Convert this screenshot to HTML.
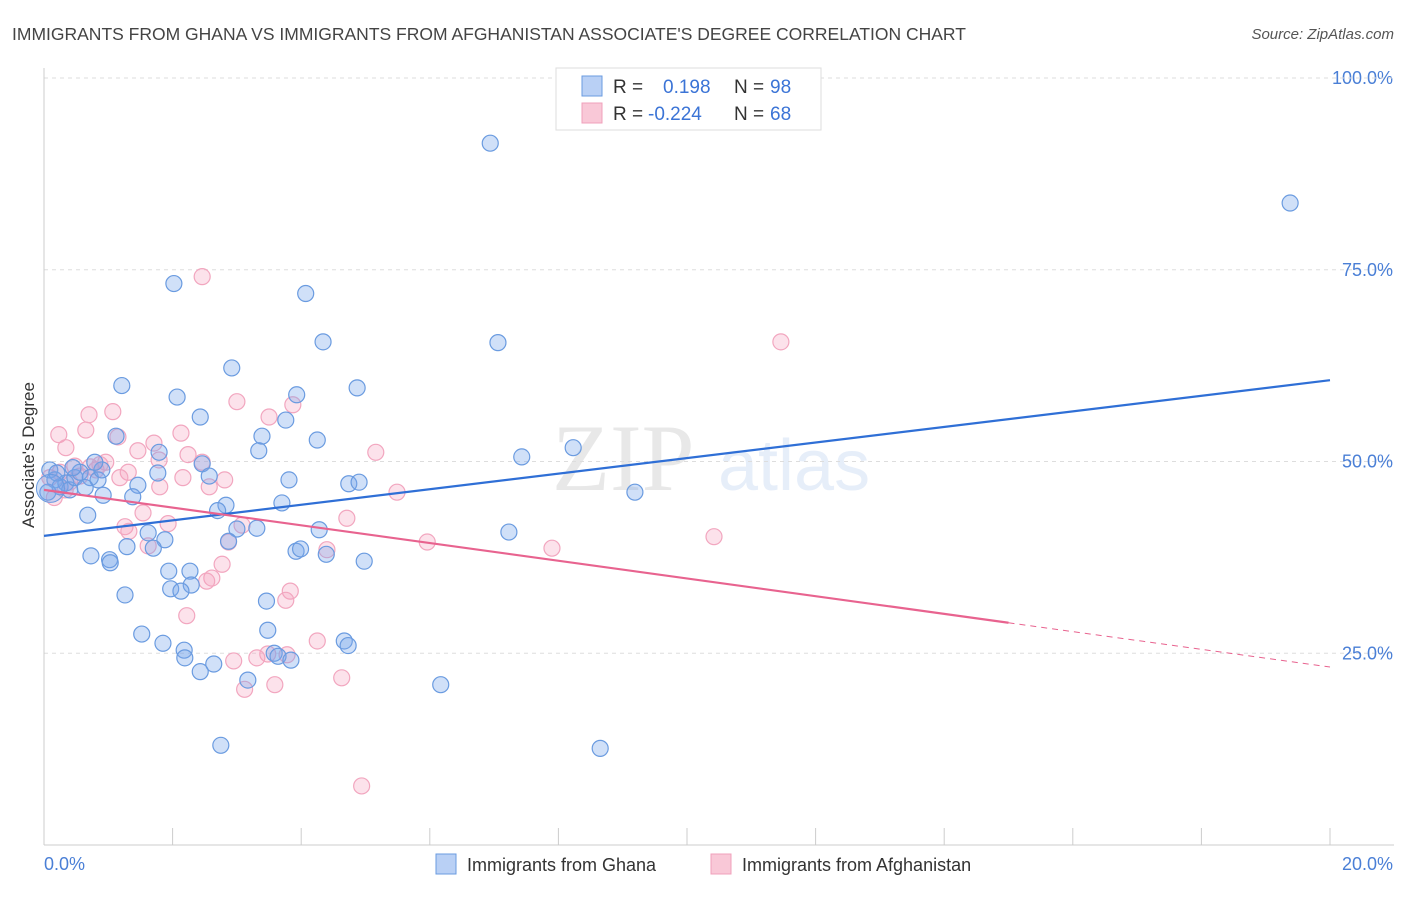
<!DOCTYPE html>
<html><head><meta charset="utf-8"><style>
body{margin:0;width:1406px;height:892px;background:#fff;font-family:"Liberation Sans",sans-serif;overflow:hidden}
</style></head><body>
<svg id="chart" width="1406" height="892" xmlns="http://www.w3.org/2000/svg">
<text x="12" y="40" font-size="17.5" fill="#444">IMMIGRANTS FROM GHANA VS IMMIGRANTS FROM AFGHANISTAN ASSOCIATE'S DEGREE CORRELATION CHART</text>
<text x="1394" y="39" font-size="15" fill="#555" font-style="italic" text-anchor="end">Source: ZipAtlas.com</text>
<g opacity="0.13"><text x="552" y="490" font-size="95" font-family="Liberation Serif" fill="#555">ZIP</text><text x="718" y="490" font-size="72" fill="#4a7fd6">atlas</text></g>
<g id="grid"></g><g id="axes"></g><g id="pts"></g><g id="lines"></g>
<text transform="translate(34,455) rotate(-90)" font-size="17" fill="#333" text-anchor="middle">Associate's Degree</text>
<g>
<rect x="556" y="68" width="265" height="62" fill="#fff" stroke="#ddd"/>
<rect x="582" y="76" width="20" height="20" fill="#b9d0f5" stroke="#6a9be0"/>
<rect x="582" y="103" width="20" height="20" fill="#f9c8d7" stroke="#f0a0bb"/>
<text x="613" y="93" font-size="19" fill="#333">R = </text><text x="663" y="93" font-size="19" fill="#3b74d6">0.198</text>
<text x="734" y="93" font-size="19" fill="#333">N = </text><text x="770" y="93" font-size="19" fill="#3b74d6">98</text>
<text x="613" y="120" font-size="19" fill="#333">R = </text><text x="648" y="120" font-size="19" fill="#3b74d6">-0.224</text>
<text x="734" y="120" font-size="19" fill="#333">N = </text><text x="770" y="120" font-size="19" fill="#3b74d6">68</text>
</g>
<g>
<rect x="436" y="854" width="20" height="20" fill="#b9d0f5" stroke="#6a9be0"/>
<text x="467" y="871" font-size="18" fill="#333">Immigrants from Ghana</text>
<rect x="711" y="854" width="20" height="20" fill="#f9c8d7" stroke="#f0a0bb"/>
<text x="742" y="871" font-size="18" fill="#333">Immigrants from Afghanistan</text>
</g>
</svg>
<script>
const blueX=[6.94,19.38,2.02,4.07,4.34,7.06,2.92,1.21,4.87,3.93,2.07,2.43,3.76,3.39,1.12,4.25,3.34,8.23,7.43,1.79,2.46,1.77,2.57,3.81,4.74,4.90,1.46,9.19,0.92,1.38,2.83,2.70,0.68,3.70,3.00,3.31,4.28,7.23,1.62,1.88,2.87,1.29,1.70,3.92,3.99,4.39,0.73,1.02,4.98,1.03,1.94,2.27,2.29,1.97,2.13,1.26,3.46,3.48,1.52,1.85,4.67,4.73,2.18,2.19,3.58,3.64,3.84,2.64,2.43,3.17,6.17,2.75,8.65,0.09,0.17,0.25,0.34,0.40,0.48,0.56,0.72,0.84,0.90,0.06,0.20,0.45,0.64,0.79];
const blueY=[91.5,83.7,73.2,71.9,65.6,65.5,62.2,59.9,59.6,58.7,58.4,55.8,55.4,53.3,53.3,52.8,51.4,51.8,50.6,51.2,49.7,48.5,48.1,47.6,47.1,47.3,46.9,46.0,45.6,45.4,44.3,43.6,43.0,44.6,41.2,41.3,41.1,40.8,40.7,39.8,39.6,38.9,38.7,38.3,38.6,37.9,37.7,37.2,37.0,36.8,35.7,35.7,33.9,33.4,33.1,32.6,31.8,28.0,27.5,26.3,26.6,26.0,25.4,24.4,25.0,24.6,24.1,23.6,22.6,21.5,20.9,13.0,12.6,48.9,47.6,46.7,47.2,46.3,47.9,48.6,47.9,47.6,48.9,46.0,48.5,49.2,46.6,49.9];
const pinkX=[2.46,11.46,3.00,3.87,3.50,0.70,1.07,2.13,0.23,1.15,0.65,1.71,0.34,5.16,1.46,2.24,1.79,0.96,2.46,0.81,1.31,2.16,2.81,1.18,2.57,1.80,5.49,0.16,1.54,4.71,3.08,1.93,1.26,1.32,5.96,2.87,10.42,7.90,1.62,4.40,2.77,2.61,2.53,3.83,3.76,2.22,4.25,3.48,3.78,3.31,2.95,4.63,3.12,3.59,4.94,0.09,0.25,0.40,0.56,0.72,0.33,0.87,0.48];
const pinkY=[74.1,65.6,57.8,57.4,55.8,56.1,56.5,53.7,53.5,53.2,54.1,52.4,51.8,51.2,51.4,50.9,50.2,49.9,49.9,48.9,48.6,47.9,47.6,47.9,46.7,46.7,46.0,45.3,43.3,42.6,41.7,41.9,41.5,40.9,39.5,39.5,40.2,38.7,39.0,38.5,36.6,34.8,34.4,33.1,31.9,29.9,26.6,24.9,24.8,24.4,24.0,21.8,20.3,20.9,7.7,47.9,48.6,47.3,48.1,49.3,46.3,49.6,49.4];
const yTicks=[25,50,75,100];
const xTickVals=[0,2,4,6,8,10,12,14,16,18,20];
const blueTrend=[40.3,60.6];
const pinkTrend=[46.3,23.2];
const pinkSolidEnd=15.0;
const NS="http://www.w3.org/2000/svg";
const sx=v=>44+v/20*1286, sy=v=>845-v*7.67;
function mk(p,t,a){const e=document.createElementNS(NS,t);for(const k in a)e.setAttribute(k,a[k]);document.getElementById(p).appendChild(e);return e;}
yTicks.forEach(v=>{
 const l=mk('grid','line',{x1:44,x2:1394,y1:sy(v),y2:sy(v),stroke:'#ddd','stroke-dasharray':'4,4'});
 
 
 const t=mk('grid','text',{x:1393,y:sy(v)+6,'font-size':18,fill:'#4a7fd6','text-anchor':'end'});t.textContent=v.toFixed(1)+'%';
 
 
});
mk('grid','line',{x1:44,x2:1394,y1:sy(100)-13+13,y2:sy(100),stroke:'#ddd','stroke-dasharray':'4,4'});
mk('axes','line',{x1:44,x2:44,y1:68,y2:845,stroke:'#ccc'});
mk('axes','line',{x1:44,x2:1394,y1:845,y2:845,stroke:'#ccc'});
xTickVals.forEach(v=>{const l=mk('axes','line',{x1:sx(v),x2:sx(v),y1:828,y2:845,stroke:'#ccc'});
 
 });
let t0=mk('axes','text',{x:44,y:870,'font-size':18,fill:'#4a7fd6'});t0.textContent='0.0%';


let t1=mk('axes','text',{x:1393,y:870,'font-size':18,fill:'#4a7fd6','text-anchor':'end'});t1.textContent='20.0%';


pinkX.forEach((x,i)=>{const c=mk('pts','circle',{cx:sx(x),cy:sy(pinkY[i]),r:8,fill:'rgba(244,160,188,0.3)',stroke:'#f2a6bf','stroke-width':1.2});
 
 });
blueX.forEach((x,i)=>{const c=mk('pts','circle',{cx:sx(x),cy:sy(blueY[i]),r:8,fill:'rgba(120,165,235,0.35)',stroke:'#6a9be0','stroke-width':1.2});
 
 });
const big=mk('pts','circle',{cx:sx(0.1),cy:sy(46.5),r:14,fill:'rgba(120,165,235,0.35)',stroke:'#6a9be0'});


const bl=mk('lines','line',{x1:sx(0),y1:sy(blueTrend[0]),x2:sx(20),y2:sy(blueTrend[1]),stroke:'#2f6fd6','stroke-width':2.2});


const pAt=x=>pinkTrend[0]+(pinkTrend[1]-pinkTrend[0])*x/20;
const pl=mk('lines','line',{x1:sx(0),y1:sy(pinkTrend[0]),x2:sx(pinkSolidEnd),y2:sy(pAt(pinkSolidEnd)),stroke:'#e8638f','stroke-width':2.2});


const pd=mk('lines','line',{x1:sx(pinkSolidEnd),y1:sy(pAt(pinkSolidEnd)),x2:sx(20),y2:sy(pinkTrend[1]),stroke:'#e8638f','stroke-width':1,'stroke-dasharray':'6,5'});


</script>
</body></html>
